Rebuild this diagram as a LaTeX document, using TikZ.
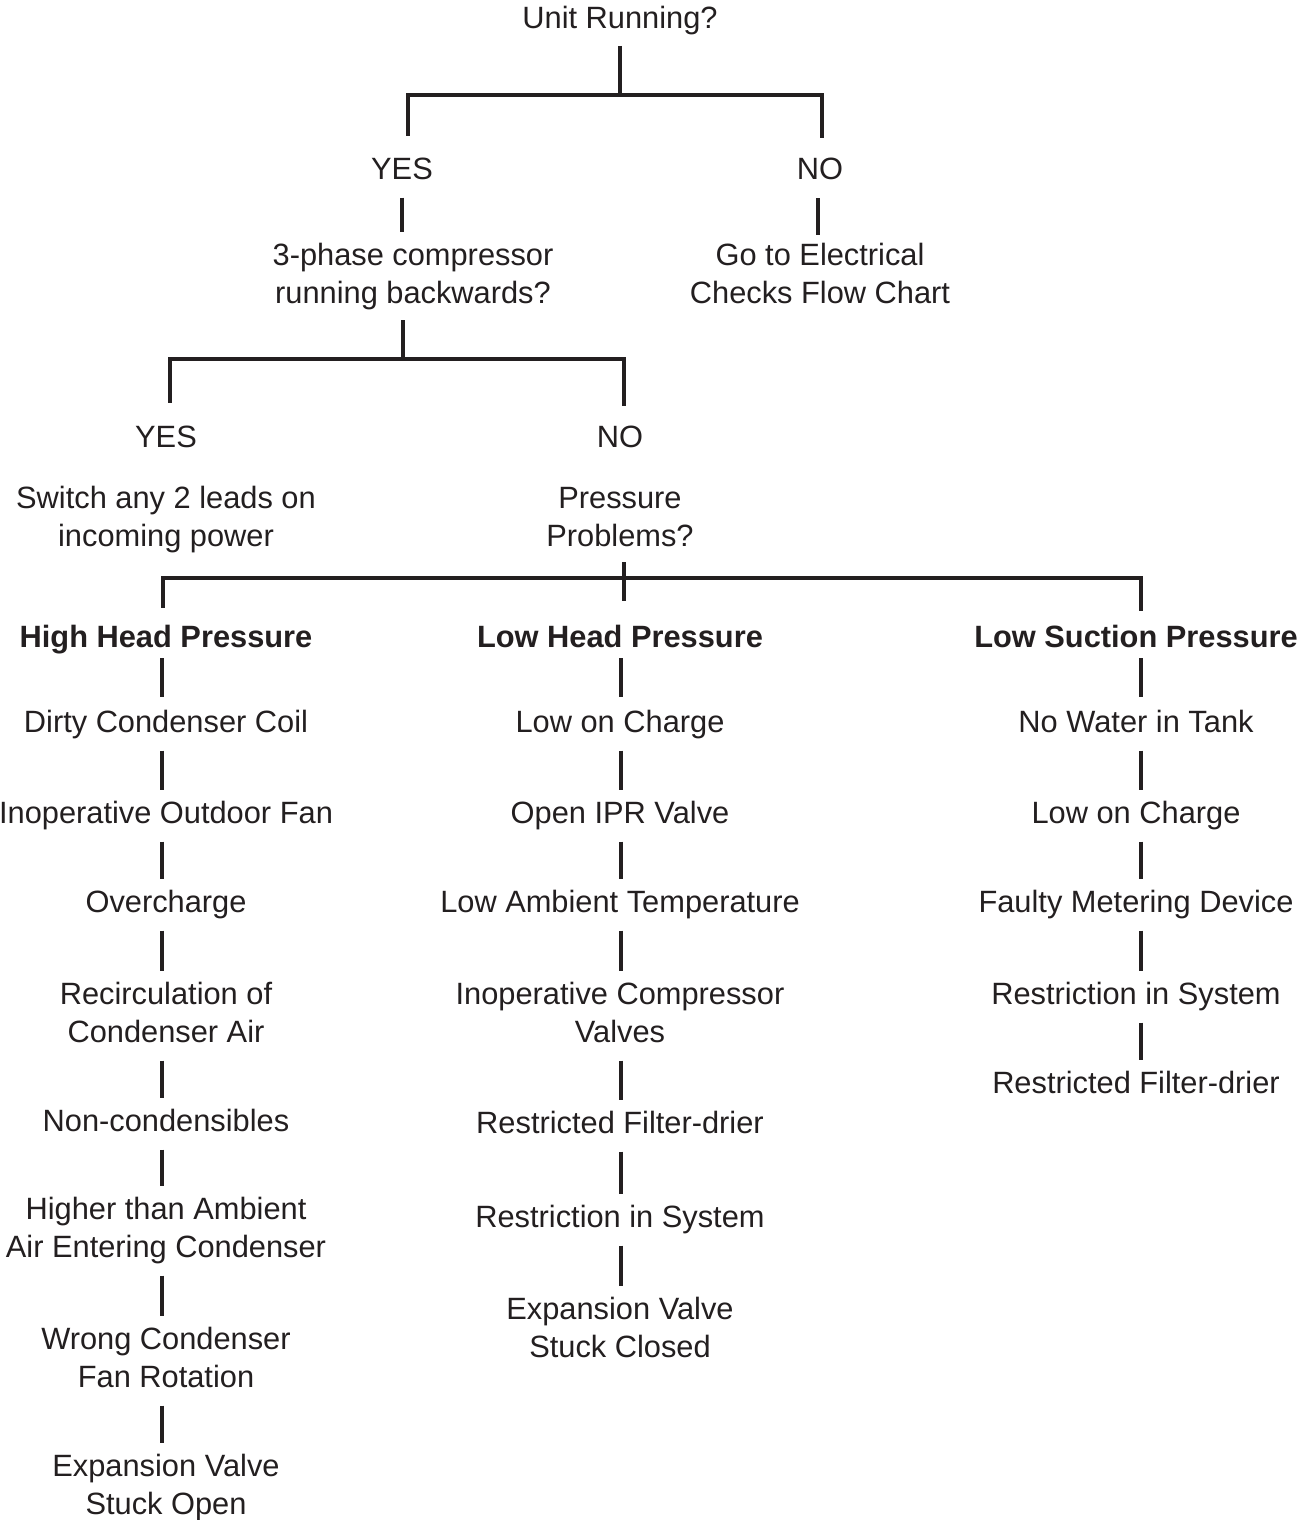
\documentclass[tikz,border=0pt]{standalone}
\usepackage{fontspec}
\setmainfont{Liberation Sans}
\definecolor{ink}{HTML}{231F20}
\newcommand{\TwoLines}[2]{\begin{tabular}[b]{@{}c@{}}#1\\#2\end{tabular}}
\begin{document}
\begin{tikzpicture}[x=1pt,y=-1pt,
  item/.style={inner sep=0pt, outer sep=0pt, anchor=south, text height=21.5pt, text depth=0pt,
    font=\fontsize{30.8}{37.5}\selectfont, text=ink},
  item2/.style={item, text height=59pt},
  head/.style={item, font=\fontsize{30.8}{37.5}\selectfont\bfseries},
  link/.style={draw=ink, line width=3.8pt, line cap=butt, shorten <=18.5pt, shorten >=12pt},
  headlink/.style={link, shorten <=11pt, shorten >=14pt},
  bus/.style={draw=ink, line width=3.8pt, line join=miter, line cap=butt}]
\fill[white] (0,0) rectangle (1299,1520);
\useasboundingbox (0,0) rectangle (1299,1520);

% top part
\node[item] (unit) at (620,29) {Unit Running?};
\node[item] (yes1) at (402,179) {YES};
\node[item] (no1) at (820,179) {NO};
\node[item2] (comp) at (413,303) {\TwoLines{3-phase compressor}{running backwards?}};
\node[item2] (elec) at (820,303) {\TwoLines{Go to Electrical}{Checks Flow Chart}};
\node[item] (yes2) at (166,447) {YES};
\node[item] (no2) at (620,447) {NO};
\node[item2] (switch) at (166,546) {\TwoLines{Switch any 2 leads on}{incoming power}};
\node[item2] (press) at (620,546) {\TwoLines{Pressure}{Problems?}};

% headings
\node[head] (hL) at (166,647) {High Head Pressure};
\node[head] (hM) at (620,647) {Low Head Pressure};
\node[head] (hR) at (1136,647) {Low Suction Pressure};

% left column
\node[item] (L1) at (166,732) {Dirty Condenser Coil};
\node[item] (L2) at (166,823) {Inoperative Outdoor Fan};
\node[item] (L3) at (166,912) {Overcharge};
\node[item2] (L4) at (166,1042) {\TwoLines{Recirculation of}{Condenser Air}};
\node[item] (L5) at (166,1131) {Non-condensibles};
\node[item2] (L6) at (166,1257) {\TwoLines{Higher than Ambient}{Air Entering Condenser}};
\node[item2] (L7) at (166,1387) {\TwoLines{Wrong Condenser}{Fan Rotation}};
\node[item2] (L8) at (166,1514) {\TwoLines{Expansion Valve}{Stuck Open}};

% middle column
\node[item] (M1) at (620,732) {Low on Charge};
\node[item] (M2) at (620,823) {Open IPR Valve};
\node[item] (M3) at (620,912) {Low Ambient Temperature};
\node[item2] (M4) at (620,1042) {\TwoLines{Inoperative Compressor}{Valves}};
\node[item] (M5) at (620,1133) {Restricted Filter-drier};
\node[item] (M6) at (620,1227) {Restriction in System};
\node[item2] (M7) at (620,1357) {\TwoLines{Expansion Valve}{Stuck Closed}};

% right column
\node[item] (R1) at (1136,732) {No Water in Tank};
\node[item] (R2) at (1136,823) {Low on Charge};
\node[item] (R3) at (1136,912) {Faulty Metering Device};
\node[item] (R4) at (1136,1004) {Restriction in System};
\node[item] (R5) at (1136,1093) {Restricted Filter-drier};

% junctions and column axes
\coordinate (b1) at (620,95);
\coordinate (b2) at (403,359);
\coordinate (b3) at (624,578);
\coordinate (colE) at (818,0);
\coordinate (colL) at (162,0);
\coordinate (colM) at (621,0);
\coordinate (colR) at (1141,0);

% tree connectors
\draw[link, shorten <=17pt, shorten >=0pt] (unit.south) -- (b1);
\draw[bus] ([shift={(6,-22)}]yes1.north) |- (b1) -| ([shift={(2,-20)}]no1.north);
\draw[link] (yes1.south) -- (comp.north -| yes1.south);
\draw[link, shorten <=19pt, shorten >=9pt] (no1.south -| colE) -- (elec.north -| colE);
\draw[link, shorten <=17pt, shorten >=0pt] (comp.south -| b2) -- (b2);
\draw[bus] ([shift={(4,-23)}]yes2.north) |- (b2) -| ([shift={(4,-20)}]no2.north);
\draw[link, shorten <=16pt, shorten >=25pt] (press.south -| b3) -- (hM.north -| b3);
\draw[bus] ([shift={(-3,-18)}]hL.north) |- (b3) -| ([shift={(5,-15)}]hR.north);

% column connectors
\draw[headlink] (hL.south -| colL) -- (L1.north -| colL);
\foreach \a/\b in {L1/L2,L2/L3,L3/L4,L4/L5,L5/L6,L6/L7,L7/L8}
  \draw[link] (\a.south -| colL) -- (\b.north -| colL);
\draw[headlink] (hM.south -| colM) -- (M1.north -| colM);
\foreach \a/\b in {M1/M2,M2/M3,M3/M4,M4/M5,M5/M6,M6/M7}
  \draw[link] (\a.south -| colM) -- (\b.north -| colM);
\draw[headlink] (hR.south -| colR) -- (R1.north -| colR);
\foreach \a/\b in {R1/R2,R2/R3,R3/R4,R4/R5}
  \draw[link] (\a.south -| colR) -- (\b.north -| colR);
\end{tikzpicture}
\end{document}
